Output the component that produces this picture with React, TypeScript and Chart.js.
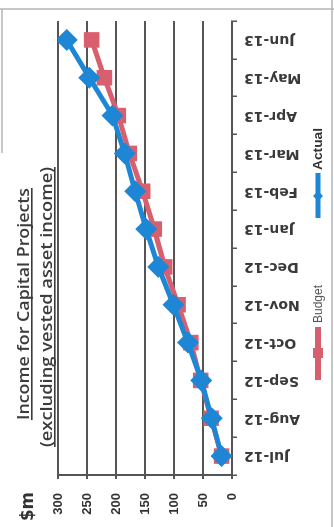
import React, { useEffect, useRef } from 'react';
import { Chart, registerables } from 'chart.js';

Chart.register(...registerables);

// ---- data ----
const categories = ['Jul-12', 'Aug-12', 'Sep-12', 'Oct-12', 'Nov-12', 'Dec-12', 'Jan-13', 'Feb-13', 'Mar-13', 'Apr-13', 'May-13', 'Jun-13'];
const budgetValues = [18, 36, 54, 71, 93, 116, 134, 154, 177, 196, 220, 242];
const actualValues = [18, 35, 53, 76, 101, 127, 148, 167, 185, 206, 246, 285];
const valueMin = 0;
const valueMax = 300;
const valueStep = 50;
const titleLines = ['Income for Capital Projects', '(excluding vested asset income)'];
const unitLabel = '$m';
const seriesNames = ['Budget', 'Actual'];

// ---- styles ----
const BLUE = '#1d87d6';
const RED = '#d8606e';
const AXIS = '#555555';
const TEXT = '#333333';
const W = 527;
const H = 334;

function drawFit(ctx: CanvasRenderingContext2D, text: string, x: number, y: number, targetW: number, font: string, color: string, align: 'left' | 'center', underline: boolean) {
  ctx.save();
  ctx.font = font;
  const w = ctx.measureText(text).width;
  const sx = targetW / w;
  ctx.translate(x, y);
  ctx.scale(sx, 1);
  ctx.fillStyle = color;
  ctx.textBaseline = 'alphabetic';
  ctx.textAlign = 'left';
  const x0 = align === 'center' ? -w / 2 : 0;
  ctx.fillText(text, x0, 0);
  if (underline) ctx.fillRect(x0, 2, w, 1.6);
  ctx.restore();
}

const decorPlugin = {
  id: 'decor',
  afterDraw(chart: any) {
    const ctx: CanvasRenderingContext2D = chart.ctx;
    ctx.save();
    // frame remnants
    ctx.strokeStyle = '#b5b5b5';
    ctx.lineWidth = 1.5;
    ctx.beginPath();
    ctx.moveTo(518, 0); ctx.lineTo(518, H);
    ctx.moveTo(0, 332); ctx.lineTo(W, 332);
    ctx.moveTo(374, 2); ctx.lineTo(518, 2);
    ctx.stroke();

    // title
    drawFit(ctx, titleLines[0], 223, 29, 232, '600 17px "Open Sans"', '#3c3c3c', 'center', true);
    drawFit(ctx, titleLines[1], 220, 52, 280, '600 17px "Open Sans"', '#3c3c3c', 'center', true);

    // unit label
    drawFit(ctx, unitLabel, 6, 33, 29, 'bold 17px "DejaVu Sans"', TEXT, 'left', false);

    // legend
    const ly = 318;
    // Budget
    ctx.strokeStyle = RED;
    ctx.lineWidth = 6;
    ctx.beginPath(); ctx.moveTo(147, ly); ctx.lineTo(200, ly); ctx.stroke();
    ctx.fillStyle = RED;
    ctx.fillRect(169, ly - 5, 10, 10);
    drawFit(ctx, seriesNames[0], 204, ly + 4, 38, '12px "Liberation Sans"', '#555555', 'left', false);
    // Actual
    ctx.strokeStyle = BLUE;
    ctx.lineWidth = 5;
    ctx.beginPath(); ctx.moveTo(309, ly); ctx.lineTo(354, ly); ctx.stroke();
    ctx.fillStyle = BLUE;
    ctx.beginPath();
    ctx.moveTo(331, ly - 5); ctx.lineTo(336, ly); ctx.lineTo(331, ly + 5); ctx.lineTo(326, ly);
    ctx.closePath(); ctx.fill();
    drawFit(ctx, seriesNames[1], 357, ly + 4, 42, 'bold 12px "Liberation Sans"', TEXT, 'left', false);
    ctx.restore();
  },
};

export default function App() {
  const canvasRef = useRef<HTMLCanvasElement | null>(null);

  useEffect(() => {
    document.body.style.overflow = 'hidden';
    const canvas = canvasRef.current;
    if (!canvas) return;
    const chart = new Chart(canvas, {
      type: 'line',
      data: {
        labels: categories,
        datasets: [
          {
            label: seriesNames[0],
            data: budgetValues,
            borderColor: RED,
            backgroundColor: RED,
            borderWidth: 5,
            pointStyle: 'rect',
            pointRadius: 11,
            pointBorderWidth: 0,
            pointBackgroundColor: RED,
            tension: 0,
            order: 1,
          },
          {
            label: seriesNames[1],
            data: actualValues,
            borderColor: BLUE,
            backgroundColor: BLUE,
            borderWidth: 5,
            pointStyle: 'rectRot',
            pointRadius: 11,
            pointBorderWidth: 0,
            pointBackgroundColor: BLUE,
            tension: 0,
            order: 0,
          },
        ],
      },
      options: {
        animation: false,
        responsive: true,
        maintainAspectRatio: false,
        devicePixelRatio: 1,
        layout: { padding: { top: 58, right: 21, left: 0, bottom: 0 } },
        plugins: {
          legend: { display: false },
          title: { display: false },
          tooltip: { enabled: false },
        },
        events: [],
        scales: {
          x: {
            type: 'category',
            offset: true,
            grid: {
              offset: true,
              drawOnChartArea: false,
              drawTicks: true,
              tickLength: 5,
              color: AXIS,
              lineWidth: 1.5,
            },
            border: { display: true, color: AXIS, width: 2 },
            ticks: {
              autoSkip: false,
              minRotation: 90,
              maxRotation: 90,
              padding: 7,
              color: '#3a3a3a',
              font: { family: '"DejaVu Sans"', weight: 'bold', size: 14 },
            },
            afterFit: (s: any) => { s.height = 102; },
          },
          y: {
            min: valueMin,
            max: valueMax,
            ticks: {
              stepSize: valueStep,
              padding: 14,
              color: TEXT,
              font: { family: '"Liberation Sans Narrow", "Liberation Sans"', weight: 'bold', size: 13 },
            },
            grid: {
              color: AXIS,
              lineWidth: 2,
              drawTicks: true,
              tickLength: 4,
            },
            border: { display: true, color: AXIS, width: 2 },
            afterFit: (s: any) => { s.width = 52; },
          },
        },
      },
      plugins: [decorPlugin],
    } as any);
    return () => chart.destroy();
  }, []);

  return (
    <div
      style={{
        position: 'fixed',
        left: 0,
        top: 0,
        width: W,
        height: H,
        background: '#ffffff',
        transformOrigin: '0 0',
        transform: `translate(0px, ${W}px) rotate(-90deg)`,
      }}
    >
      <canvas ref={canvasRef} />
    </div>
  );
}
